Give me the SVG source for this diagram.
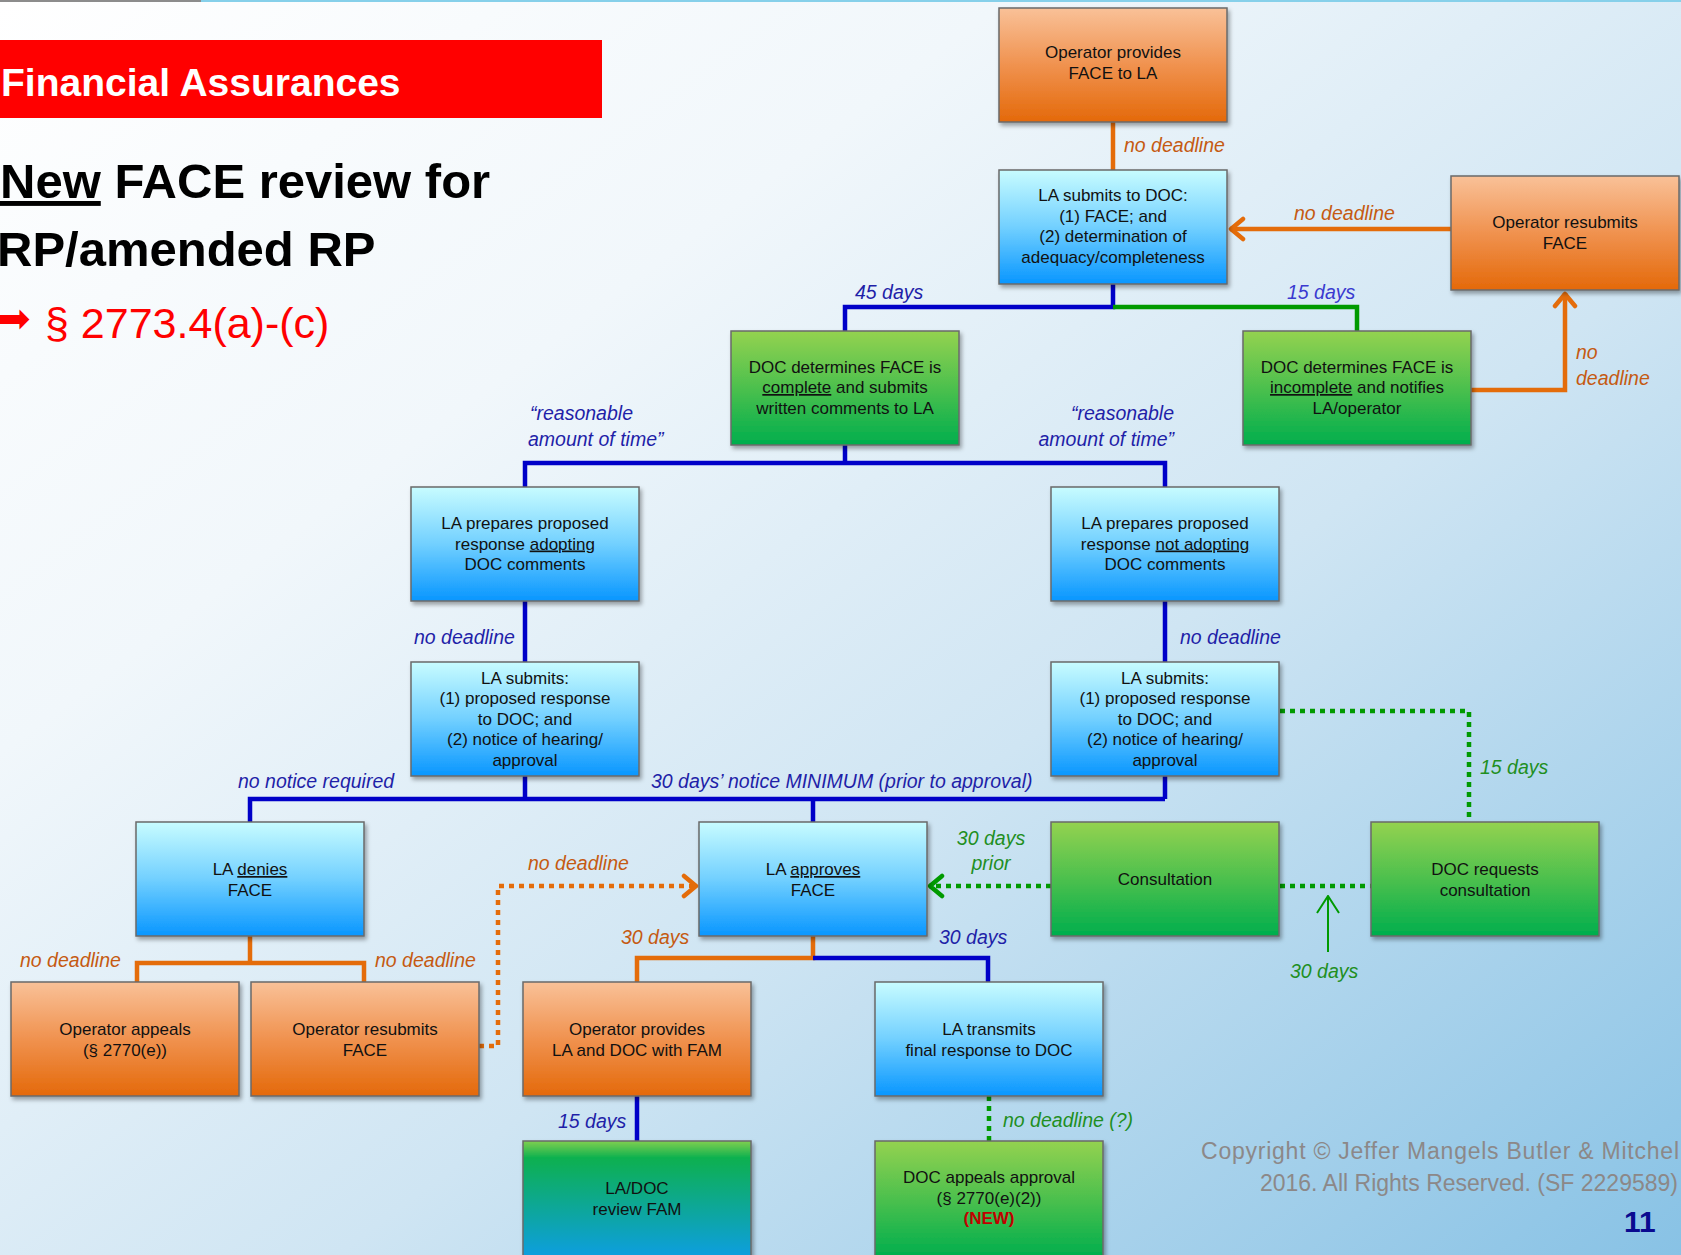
<svg xmlns="http://www.w3.org/2000/svg" width="1681" height="1255" viewBox="0 0 1681 1255">
<defs>
<linearGradient id="bg" x1="0" y1="0" x2="1" y2="1">
<stop offset="0" stop-color="#ffffff"/>
<stop offset="0.3" stop-color="#f1f7fb"/>
<stop offset="0.6" stop-color="#cfe5f3"/>
<stop offset="1" stop-color="#88c2e5"/>
</linearGradient>
<linearGradient id="gO" x1="0" y1="0" x2="0" y2="1">
<stop offset="0" stop-color="#f9c198"/>
<stop offset="0.5" stop-color="#f0924f"/>
<stop offset="1" stop-color="#e4690a"/>
</linearGradient>
<linearGradient id="gB" x1="0" y1="0" x2="0" y2="1">
<stop offset="0" stop-color="#c8fcff"/>
<stop offset="0.5" stop-color="#72d0ff"/>
<stop offset="1" stop-color="#0896ff"/>
</linearGradient>
<linearGradient id="gG" x1="0" y1="0" x2="0" y2="1">
<stop offset="0" stop-color="#94d250"/>
<stop offset="0.5" stop-color="#4cc04e"/>
<stop offset="1" stop-color="#00ae4e"/>
</linearGradient>
<linearGradient id="gGB" x1="0" y1="0" x2="0" y2="1">
<stop offset="0" stop-color="#80cf50"/>
<stop offset="0.15" stop-color="#0bb050"/>
<stop offset="1" stop-color="#0a9ee0"/>
</linearGradient>
<filter id="sh" x="-10%" y="-10%" width="125%" height="130%">
<feDropShadow dx="2" dy="3" stdDeviation="2" flood-color="#000" flood-opacity="0.35"/>
</filter>
<marker id="chO" viewBox="0 0 20 26" refX="18" refY="13" markerWidth="20" markerHeight="26" markerUnits="userSpaceOnUse" orient="auto">
<path d="M5,3 L17,13 L5,23" fill="none" stroke="#e46c0a" stroke-width="4.5" stroke-linecap="round" stroke-linejoin="round"/>
</marker>
<marker id="chG" viewBox="0 0 20 26" refX="18" refY="13" markerWidth="20" markerHeight="26" markerUnits="userSpaceOnUse" orient="auto">
<path d="M5,3 L17,13 L5,23" fill="none" stroke="#009a00" stroke-width="4.5" stroke-linecap="round" stroke-linejoin="round"/>
</marker>
<marker id="thG" viewBox="0 0 20 30" refX="19" refY="15" markerWidth="20" markerHeight="30" markerUnits="userSpaceOnUse" orient="auto">
<path d="M2,4 L19,15 L2,26" fill="none" stroke="#009a00" stroke-width="2"/>
</marker>
</defs>
<style>
.box{stroke:#6a6a6a;stroke-width:1.5;filter:url(#sh)}
.o{fill:url(#gO)} .b{fill:url(#gB)} .g{fill:url(#gG)}
.t{font-family:"Liberation Sans",Arial,sans-serif;font-size:17px;fill:#111;text-anchor:middle}
.u{text-decoration:underline}
.lbl{font-family:"Liberation Sans",Arial,sans-serif;font-size:19.5px;font-style:italic}
.lo{fill:#c55a11} .lb{fill:#1f1fa8} .lg{fill:#1f8f1f} .lb2{fill:#3a3ad0}
.c{fill:none;stroke-width:4.5}
.cb{stroke:#0000c8} .co{stroke:#e46c0a} .cg{stroke:#009a00}
.dot{stroke-dasharray:5 5}
</style>
<rect x="0" y="0" width="1681" height="1255" fill="url(#bg)"/>
<rect x="0" y="0" width="201" height="2" fill="#8c8c8c"/>
<rect x="201" y="0" width="1480" height="2" fill="#86d0ea"/>

<g id="title">
<rect x="0" y="40" width="602" height="78" fill="#ff0000"/>
<text x="1" y="96" font-family="Liberation Sans, Arial, sans-serif" font-size="39" font-weight="bold" fill="#ffffff">Financial Assurances</text>
<text x="0" y="198" font-family="Liberation Sans, Arial, sans-serif" font-size="49" font-weight="bold" fill="#000"><tspan class="u">New</tspan> FACE review for</text>
<text x="-3" y="266" font-family="Liberation Sans, Arial, sans-serif" font-size="49" font-weight="bold" fill="#000">RP/amended RP</text>
<text y="338" font-family="Liberation Sans, Arial, sans-serif" font-size="43" fill="#ff0000"><tspan x="-3" font-family="DejaVu Sans, sans-serif" font-size="40" dy="-6">➡</tspan><tspan x="45" dy="6">§ 2773.4(a)-(c)</tspan></text>
</g>

<g id="connectors">
<path class="c co" d="M1113,122 V170"/>
<path class="c co" d="M1451,229 H1230" marker-end="url(#chO)"/>
<path class="c cb" d="M1113,284 V307 H845 V331"/>
<path class="c cg" d="M1113,307 H1357 V331"/>
<path class="c co" d="M1471,390 H1565 V293" marker-end="url(#chO)"/>
<path class="c cb" d="M845,445 V463 M525,487 V463 H1165 V487"/>
<path class="c cb" d="M525,601 V662 M1165,601 V662"/>
<path class="c cb" d="M525,776 V799 M1165,776 V799 M250,822 V799 H1165 M813,799 V822"/>
<path class="c co" d="M250,936 V963 M137,982 V963 H364 V982"/>
<path class="c co dot" d="M479,1046 H498 V886 H697" marker-end="url(#chO)"/>
<path class="c cg dot" d="M1051,886 H929" marker-end="url(#chG)"/>
<path class="c cg dot" d="M1280,886 H1371"/>
<path fill="none" stroke="#009a00" stroke-width="2" d="M1328,952 V896" marker-end="url(#thG)"/>
<path class="c cg dot" d="M1280,711 H1469 V822"/>
<path class="c co" d="M813,936 V958 H637 V982"/>
<path class="c cb" d="M813,958 H988 V982"/>
<path class="c cb" d="M637,1096 V1141"/>
<path class="c cg dot" d="M989,1096 V1141"/>
</g>

<g id="labels">
<text class="lbl lo" x="1124" y="152">no deadline</text>
<text class="lbl lo" x="1294" y="220">no deadline</text>
<text class="lbl lb" x="855" y="299">45 days</text>
<text class="lbl lb2" x="1287" y="299">15 days</text>
<text class="lbl lo" x="1576" y="359">no</text>
<text class="lbl lo" x="1576" y="385">deadline</text>
<text class="lbl lb" x="530" y="420">“reasonable</text>
<text class="lbl lb" x="528" y="446">amount of time”</text>
<text class="lbl lb" x="1174" y="420" text-anchor="end">“reasonable</text>
<text class="lbl lb" x="1174" y="446" text-anchor="end">amount of time”</text>
<text class="lbl lb" x="414" y="644">no deadline</text>
<text class="lbl lb" x="1180" y="644">no deadline</text>
<text class="lbl lb" x="238" y="788">no notice required</text>
<text class="lbl lb" x="651" y="788">30 days’ notice MINIMUM (prior to approval)</text>
<text class="lbl lo" x="528" y="870">no deadline</text>
<text class="lbl lg" x="991" y="845" text-anchor="middle">30 days</text>
<text class="lbl lg" x="991" y="870" text-anchor="middle">prior</text>
<text class="lbl lo" x="621" y="944">30 days</text>
<text class="lbl lb" x="939" y="944">30 days</text>
<text class="lbl lo" x="20" y="967">no deadline</text>
<text class="lbl lo" x="375" y="967">no deadline</text>
<text class="lbl lb" x="558" y="1128">15 days</text>
<text class="lbl lg" x="1003" y="1127">no deadline (?)</text>
<text class="lbl lg" x="1480" y="774">15 days</text>
<text class="lbl lg" x="1290" y="978">30 days</text>
</g>

<g id="n1"><rect class="box o" x="999" y="8" width="228" height="114"/>
<text class="t"><tspan x="1113" y="58">Operator provides</tspan><tspan x="1113" y="79">FACE to LA</tspan></text></g>
<g id="n2"><rect class="box b" x="999" y="170" width="228" height="114"/>
<text class="t"><tspan x="1113" y="201">LA submits to DOC:</tspan><tspan x="1113" y="221.5">(1) FACE; and</tspan><tspan x="1113" y="242">(2) determination of</tspan><tspan x="1113" y="262.5">adequacy/completeness</tspan></text></g>
<g id="n3"><rect class="box o" x="1451" y="176" width="228" height="114"/>
<text class="t"><tspan x="1565" y="228">Operator resubmits</tspan><tspan x="1565" y="248.5">FACE</tspan></text></g>
<g id="n4"><rect class="box g" x="731" y="331" width="228" height="114"/>
<text class="t"><tspan x="845" y="372.5">DOC determines FACE is</tspan><tspan x="845" y="393"><tspan class="u">complete</tspan> and submits</tspan><tspan x="845" y="413.5">written comments to LA</tspan></text></g>
<g id="n5"><rect class="box g" x="1243" y="331" width="228" height="114"/>
<text class="t"><tspan x="1357" y="372.5">DOC determines FACE is</tspan><tspan x="1357" y="393"><tspan class="u">incomplete</tspan> and notifies</tspan><tspan x="1357" y="413.5">LA/operator</tspan></text></g>
<g id="n6"><rect class="box b" x="411" y="487" width="228" height="114"/>
<text class="t"><tspan x="525" y="529">LA prepares proposed</tspan><tspan x="525" y="549.5">response <tspan class="u">adopting</tspan></tspan><tspan x="525" y="570">DOC comments</tspan></text></g>
<g id="n7"><rect class="box b" x="1051" y="487" width="228" height="114"/>
<text class="t"><tspan x="1165" y="529">LA prepares proposed</tspan><tspan x="1165" y="549.5">response <tspan class="u">not adopting</tspan></tspan><tspan x="1165" y="570">DOC comments</tspan></text></g>
<g id="n8"><rect class="box b" x="411" y="662" width="228" height="114"/>
<text class="t"><tspan x="525" y="683.5">LA submits:</tspan><tspan x="525" y="704">(1) proposed response</tspan><tspan x="525" y="724.5">to DOC; and</tspan><tspan x="525" y="745">(2) notice of hearing/</tspan><tspan x="525" y="765.5">approval</tspan></text></g>
<g id="n9"><rect class="box b" x="1051" y="662" width="228" height="114"/>
<text class="t"><tspan x="1165" y="683.5">LA submits:</tspan><tspan x="1165" y="704">(1) proposed response</tspan><tspan x="1165" y="724.5">to DOC; and</tspan><tspan x="1165" y="745">(2) notice of hearing/</tspan><tspan x="1165" y="765.5">approval</tspan></text></g>
<g id="n10"><rect class="box b" x="136" y="822" width="228" height="114"/>
<text class="t"><tspan x="250" y="875">LA <tspan class="u">denies</tspan></tspan><tspan x="250" y="895.5">FACE</tspan></text></g>
<g id="n11"><rect class="box b" x="699" y="822" width="228" height="114"/>
<text class="t"><tspan x="813" y="875">LA <tspan class="u">approves</tspan></tspan><tspan x="813" y="895.5">FACE</tspan></text></g>
<g id="n12"><rect class="box g" x="1051" y="822" width="228" height="114"/>
<text class="t" x="1165" y="885">Consultation</text></g>
<g id="n13"><rect class="box g" x="1371" y="822" width="228" height="114"/>
<text class="t"><tspan x="1485" y="875">DOC requests</tspan><tspan x="1485" y="895.5">consultation</tspan></text></g>
<g id="n14"><rect class="box o" x="11" y="982" width="228" height="114"/>
<text class="t"><tspan x="125" y="1035">Operator appeals</tspan><tspan x="125" y="1055.5">(§ 2770(e))</tspan></text></g>
<g id="n15"><rect class="box o" x="251" y="982" width="228" height="114"/>
<text class="t"><tspan x="365" y="1035">Operator resubmits</tspan><tspan x="365" y="1055.5">FACE</tspan></text></g>
<g id="n16"><rect class="box o" x="523" y="982" width="228" height="114"/>
<text class="t"><tspan x="637" y="1035">Operator provides</tspan><tspan x="637" y="1055.5">LA and DOC with FAM</tspan></text></g>
<g id="n17"><rect class="box b" x="875" y="982" width="228" height="114"/>
<text class="t"><tspan x="989" y="1035">LA transmits</tspan><tspan x="989" y="1055.5">final response to DOC</tspan></text></g>
<g id="n18"><rect class="box" fill="url(#gGB)" x="523" y="1141" width="228" height="116"/>
<text class="t"><tspan x="637" y="1194">LA/DOC</tspan><tspan x="637" y="1214.5">review FAM</tspan></text></g>
<g id="n19"><rect class="box g" x="875" y="1141" width="228" height="116"/>
<text class="t"><tspan x="989" y="1183">DOC appeals approval</tspan><tspan x="989" y="1203.5">(§ 2770(e)(2))</tspan><tspan x="989" y="1224" fill="#c00000" font-weight="bold">(NEW)</tspan></text></g>

<g id="footer">
<text x="1201" y="1159" font-family="Liberation Sans, Arial, sans-serif" font-size="23" fill="#8c8888" textLength="478" lengthAdjust="spacing">Copyright © Jeffer Mangels Butler &amp; Mitchel</text>
<text x="1678" y="1191" text-anchor="end" font-family="Liberation Sans, Arial, sans-serif" font-size="23" fill="#8c8888">2016. All Rights Reserved. (SF 2229589)</text>
<text x="1624" y="1232" font-family="Liberation Sans, Arial, sans-serif" font-size="30" font-weight="bold" fill="#0a0a90">11</text>
</g>
</svg>
